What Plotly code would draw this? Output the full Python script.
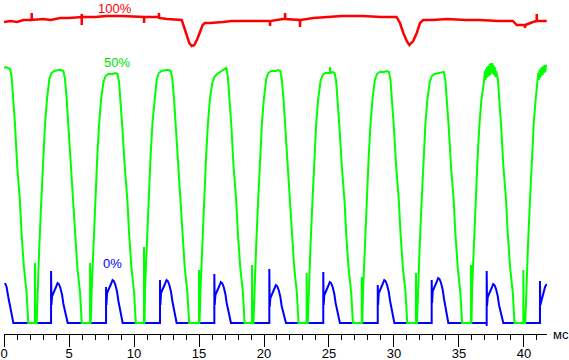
import plotly.graph_objects as go

# ---- data (time in ms, signal in arbitrary brightness units) ----
red_t = [0, 0.5, 1.0, 1.5, 2.13, 2.13, 2.15, 3.0, 3.6, 4.31, 5.0, 5.98, 5.98, 5.98, 6.0, 7.0, 7.92, 9.0,
         10.77, 10.77, 10.79, 11.77, 11.92, 11.92, 11.94, 12.54, 13.2, 13.67, 13.85, 14.05, 14.25, 14.44,
         14.64, 14.87, 15.08, 15.28, 15.46, 15.85, 16.85, 17.5, 18.38, 19.69, 20.46, 20.46, 20.48, 21.46,
         21.62, 21.62, 21.64, 22.77, 22.77, 22.79, 23.8, 24.82, 26.0, 27.6, 29.0, 30.2, 30.46, 30.72, 30.98,
         31.18, 31.48, 31.75, 32.0, 32.25, 33.0, 34.05, 35.5, 36.62, 38.0, 39.15, 39.44, 40.08, 40.08, 40.10,
         40.69, 40.98, 40.98, 41.00, 41.4, 41.75]
red_v = [301, 302, 301, 303, 303, 310, 303, 304, 303, 305, 305, 306, 298, 309, 306, 306, 307, 307,
         306, 300, 306, 306, 306, 310, 305, 304, 303, 303, 296, 288, 280, 277,
         278, 284, 291, 298, 300, 300, 301, 302, 302, 302, 302, 297, 302, 304,
         304, 310, 304, 303, 296, 303, 305, 306, 307, 307, 306, 306, 300, 290, 282,
         278, 282, 290, 300, 303, 303, 304, 303, 303, 302, 302, 298, 298, 295, 298,
         301, 302, 309, 302, 302, 302]

green_t = [
    0, 0.15, 0.30, 0.46, 0.58, 0.71, 0.84, 1.02, 1.22, 1.35, 1.53, 1.74, 1.87,
    2.38, 2.38, 2.40, 2.51, 2.59, 2.71, 2.86, 3.01, 3.16, 3.31, 3.49, 3.65, 3.86, 4.21, 4.41, 4.57,
    4.69, 4.82, 4.95, 5.13, 5.33, 5.46, 5.64, 5.85, 5.98,
    6.62, 6.62, 6.64, 6.67, 6.75, 6.87, 7.02, 7.17, 7.32, 7.47, 7.65, 7.81, 8.02, 8.37, 8.57, 8.73,
    8.85, 8.98, 9.11, 9.29, 9.49, 9.62, 9.80, 10.01, 10.14,
    10.77, 10.77, 10.79, 10.81, 10.85, 10.97, 11.12, 11.27, 11.42, 11.57, 11.75, 11.91, 12.12, 12.47,
    12.67, 12.83, 12.95, 13.08, 13.21, 13.39, 13.59, 13.72, 13.90, 14.11, 14.24,
    15.00, 15.00, 15.02, 15.04, 15.12, 15.24, 15.39, 15.54, 15.69, 15.84, 16.02, 16.18, 16.39, 16.74,
    16.94, 17.10, 17.22, 17.35, 17.48, 17.66, 17.86, 17.99, 18.17, 18.38, 18.51,
    19.08, 19.08, 19.10, 19.19, 19.27, 19.39, 19.54, 19.69, 19.84, 19.99, 20.17, 20.33, 20.54, 20.89,
    21.09, 21.25, 21.37, 21.50, 21.63, 21.81, 22.01, 22.14, 22.32, 22.53, 22.66,
    23.28, 23.28, 23.30, 23.37, 23.45, 23.57, 23.72, 23.87, 24.02, 24.17, 24.35, 24.51, 24.72, 25.07,
    25.08, 25.10, 25.27, 25.43, 25.55, 25.68, 25.81, 25.99, 26.19, 26.32, 26.50, 26.71, 26.84,
    27.52, 27.52, 27.54, 27.56, 27.63, 27.75, 27.90, 28.05, 28.20, 28.35, 28.53, 28.69, 28.90, 29.25,
    29.45, 29.61, 29.73, 29.86, 29.99, 30.17, 30.37, 30.50, 30.68, 30.89, 31.02,
    31.69, 31.69, 31.71, 31.77, 31.85, 31.97, 32.12, 32.27, 32.42, 32.57, 32.75, 32.91, 33.12, 33.47,
    33.67, 33.83, 33.95, 34.08, 34.21, 34.39, 34.59, 34.72, 34.90, 35.11, 35.24,
    35.92, 35.92, 35.94, 35.96, 36.01, 36.13, 36.28, 36.43, 36.58, 36.73, 36.91, 37.00, 37.03, 37.07,
    37.12, 37.16, 37.21, 37.25, 37.30, 37.35, 37.40, 37.45, 37.50, 37.55, 37.60, 37.65, 37.70, 37.75,
    37.80, 37.86, 37.99, 38.11, 38.24, 38.42, 38.62, 38.75, 38.93, 39.14, 39.27,
    39.95, 39.95, 39.97, 40.10, 40.18, 40.30, 40.45, 40.60, 40.75, 40.90, 41.05, 41.10, 41.14, 41.19,
    41.24, 41.29, 41.34, 41.39, 41.44, 41.49, 41.54, 41.59, 41.64, 41.69, 41.75]
green_v = [
    255, 256, 255, 254, 247, 227, 200, 156, 123, 90, 56, 30, 0,
    0, 60, 0, 0, 35, 75, 120, 165, 200, 224, 244, 250, 252, 253, 253, 252,
    244, 224, 197, 156, 123, 90, 56, 30, 0,
    0, 60, 0, 0, 35, 75, 120, 165, 200, 224, 241, 247, 249, 249, 250, 249,
    241, 221, 194, 156, 123, 90, 56, 30, 0,
    0, 76, 0, 0, 35, 75, 120, 165, 200, 224, 244, 250, 252, 253,
    253, 252, 244, 224, 197, 156, 123, 90, 56, 30, 0,
    0, 53, 0, 0, 35, 75, 120, 165, 200, 224, 240, 246, 249, 252,
    254, 255, 246, 226, 199, 156, 123, 90, 56, 30, 0,
    0, 58, 0, 0, 35, 75, 120, 165, 200, 224, 244, 250, 252, 252,
    253, 252, 244, 224, 197, 156, 123, 90, 56, 30, 0,
    0, 50, 0, 0, 35, 75, 120, 165, 200, 224, 242, 248, 250, 250,
    256, 250, 251, 250, 242, 222, 195, 156, 123, 90, 56, 30, 0,
    0, 46, 0, 0, 35, 75, 120, 165, 200, 224, 243, 249, 251, 251,
    252, 251, 243, 223, 196, 156, 123, 90, 56, 30, 0,
    0, 50, 0, 0, 35, 75, 120, 165, 200, 224, 241, 247, 249, 250,
    251, 251, 243, 223, 196, 156, 123, 90, 56, 30, 0,
    0, 58, 0, 0, 35, 75, 120, 165, 200, 224, 240, 252, 243, 254,
    245, 256, 246, 257, 247, 259, 248, 260, 250, 260, 249, 258, 248, 256,
    246, 252, 244, 224, 197, 156, 123, 90, 56, 30, 0,
    0, 53, 0, 0, 35, 75, 120, 165, 200, 224, 242, 250, 243, 253,
    245, 255, 247, 256, 248, 257, 250, 258, 251, 258, 256]

blue_t = [
    0.08, 0.20, 0.33, 0.46, 0.59, 0.72,
    3.62, 3.62, 3.65, 3.70, 3.82, 3.89, 4.00, 4.12, 4.22, 4.34, 4.47, 4.57, 4.72, 4.90,
    7.85, 7.85, 7.88, 7.93, 8.05, 8.12, 8.23, 8.35, 8.45, 8.57, 8.70, 8.80, 8.95, 9.13,
    12.00, 12.00, 12.03, 12.08, 12.20, 12.27, 12.38, 12.50, 12.60, 12.72, 12.85, 12.95, 13.10, 13.28,
    16.18, 16.18, 16.21, 16.26, 16.38, 16.45, 16.56, 16.68, 16.78, 16.90, 17.03, 17.13, 17.28, 17.46,
    20.41, 20.41, 20.44, 20.49, 20.61, 20.68, 20.79, 20.91, 21.01, 21.13, 21.26, 21.36, 21.51, 21.69,
    24.56, 24.56, 24.59, 24.64, 24.76, 24.83, 24.94, 25.06, 25.16, 25.28, 25.41, 25.51, 25.66, 25.84,
    28.75, 28.75, 28.78, 28.83, 28.95, 29.02, 29.13, 29.25, 29.35, 29.47, 29.60, 29.70, 29.85, 30.03,
    32.90, 32.90, 32.93, 32.98, 33.10, 33.17, 33.28, 33.40, 33.50, 33.62, 33.75, 33.85, 34.00, 34.18,
    37.13, 37.13, 37.13, 37.16, 37.21, 37.33, 37.40, 37.51, 37.63, 37.73, 37.85, 37.98, 38.08, 38.23, 38.41,
    41.23, 41.23, 41.26, 41.36, 41.50, 41.62, 41.75]
blue_v = [
    40, 36, 26, 16, 6, 0,
    0, 52, 18, 27, 30, 33, 36, 40, 39, 35, 28, 19, 9, 0,
    0, 36, 18, 30, 33, 36, 39, 43, 42, 38, 31, 22, 12, 0,
    0, 43, 18, 30, 33, 36, 39, 43, 42, 38, 31, 22, 12, 0,
    0, 49, 18, 28, 31, 34, 37, 41, 40, 36, 29, 20, 10, 0,
    0, 54, 16, 25, 28, 31, 34, 38, 37, 33, 26, 17, 8, 0,
    0, 51, 18, 28, 31, 34, 37, 41, 40, 36, 29, 20, 10, 0,
    0, 38, 18, 30, 33, 36, 39, 43, 42, 38, 31, 22, 12, 0,
    0, 43, 20, 32, 35, 38, 41, 45, 44, 40, 33, 24, 14, 0,
    0, -3, 52, 17, 26, 29, 32, 35, 39, 38, 34, 27, 18, 9, 0,
    0, 42, 18, 23, 30, 36, 39]

x_ticks = [0, 5, 10, 15, 20, 25, 30, 35, 40]
labels = {"100%": (8.54, 315, "#ff0000"), "50%": (8.69, 261, "#00e000"), "0%": (8.31, 60, "#0000ff")}
unit_label = "мс"

FONT = "Liberation Sans, Arial, sans-serif"

fig = go.Figure()
fig.add_trace(go.Scatter(x=blue_t, y=blue_v, mode="lines", line=dict(color="#0000ff", width=2), hoverinfo="skip"))
fig.add_trace(go.Scatter(x=green_t, y=green_v, mode="lines", line=dict(color="#00ff00", width=2), hoverinfo="skip"))
fig.add_trace(go.Scatter(x=red_t, y=red_v, mode="lines", line=dict(color="#ff0000", width=2.5), hoverinfo="skip"))

for txt, (x, y, c) in labels.items():
    fig.add_annotation(x=x, y=y, text=txt, showarrow=False, font=dict(family=FONT, size=13, color=c),
                       xanchor="center", yanchor="middle")

fig.add_annotation(xref="paper", yref="paper", x=1, y=0, text=unit_label, showarrow=False,
                   xanchor="left", yanchor="middle", xshift=4,
                   font=dict(family=FONT, size=13, color="#000000"))

fig.update_layout(
    width=569, height=360,
    margin=dict(l=4, r=22, t=0, b=26, autoexpand=False),
    paper_bgcolor="white", plot_bgcolor="white",
    showlegend=False,
    xaxis=dict(range=[0, 41.77], showline=True, linecolor="black", linewidth=1, automargin=False,
               ticks="outside", ticklen=12, tickcolor="black", tickwidth=1,
               tickvals=x_ticks, ticktext=[str(v) for v in x_ticks],
               ticklabelstandoff=-5,
               minor=dict(dtick=1, tick0=0, ticks="outside", ticklen=5, tickcolor="black", tickwidth=1,
                          showgrid=False),
               showgrid=False, zeroline=False,
               tickfont=dict(family=FONT, size=13, color="black")),
    yaxis=dict(range=[-11, 323], visible=False, showgrid=False, zeroline=False, automargin=False),
)

fig.write_html("out.html", config={"displayModeBar": False, "staticPlot": True},
               post_script="document.body.style.margin='0';document.body.style.overflow='hidden';")
